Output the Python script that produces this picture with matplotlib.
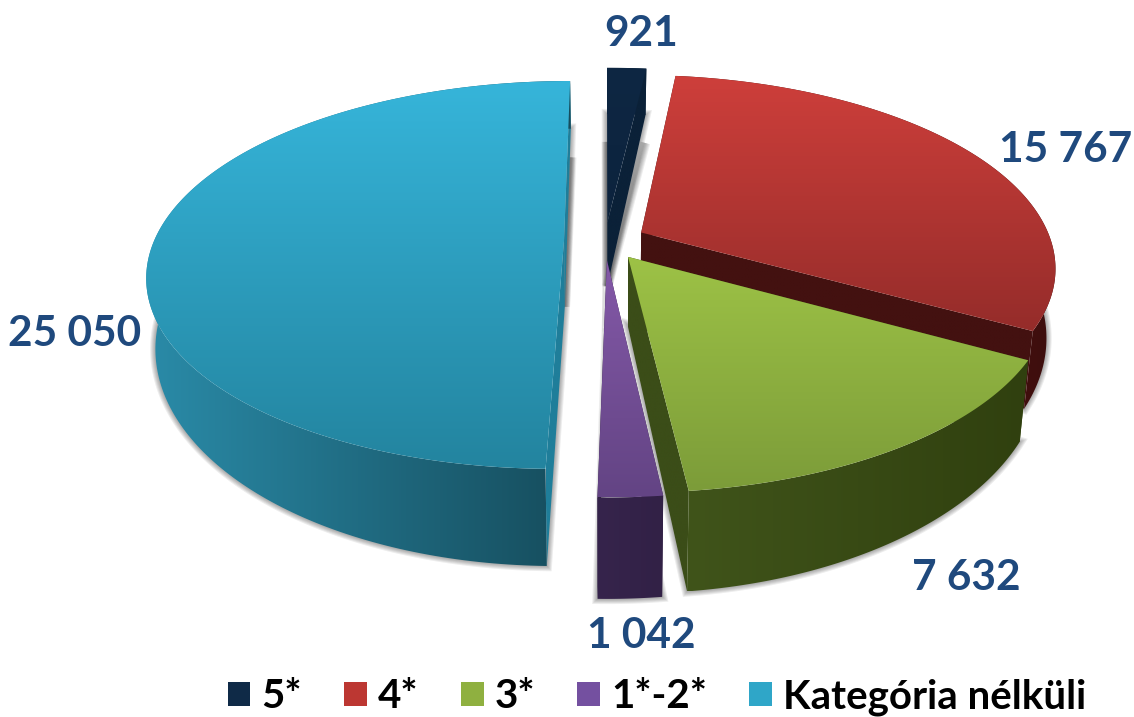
import numpy as np
import matplotlib
matplotlib.use("Agg")
import matplotlib.pyplot as plt
from matplotlib.path import Path
from matplotlib.patches import PathPatch, Patch, Polygon
from matplotlib.colors import LinearSegmentedColormap

categories = ["5*", "4*", "3*", "1*-2*", "Kategória nélküli"]
values = [921, 15767, 7632, 1042, 25050]
labels = ["921", "15 767", "7 632", "1 042", "25 050"]
label_pos = [(641, 34.5), (1066, 150.5), (966, 578.5), (641, 636.5), (75, 333.5)]
top_colors = [("#0E2743", "#0C233D"), ("#CE3F3B", "#952C2A"), ("#9DC246", "#7C9C39"),
              ("#8459A8", "#634484"), ("#36B5DA", "#23849F")]
wall_colors = [("#0B2138", "#0B2138"), ("#531311", "#3E0E0D"), ("#40541A", "#30400F"),
               ("#36244C", "#322146"), ("#2A8BA8", "#164D5D")]
cut_colors = ["#0B2138", "#431110", "#3B4D18", "#2E1E40", "#1F7E9A"]
legend_colors = ["#0F2A47", "#BC3732", "#8FB040", "#7450A0", "#2FA6C8"]
draw_order = [0, 1, 4, 2, 3]

W, H = 1134, 717
CX, CY, RX, RY, P, EXPL, DEPTH, SHRINK = 605, 241, 410, 188, 0.176, 0.10, 66, 0.02

fig = plt.figure(figsize=(W / 100, H / 100), dpi=100)
ax = fig.add_axes([0, 0, 1, 1])


def project(theta, r, z, dx, dy):
    u = r * np.sin(theta) + dx
    v = r * np.cos(theta) + dy
    s = 1 / (1 + P * v)
    x = CX + RX * u * s
    y = CY - RY * v * s
    return CX + (x - CX) * (1 - SHRINK * z), y + z * DEPTH * s ** 2


def fill(xs, ys, c0, c1, horizontal, zorder):
    xy = np.column_stack([np.append(xs, xs[0]), np.append(ys, ys[0])])
    codes = [Path.MOVETO] + [Path.LINETO] * (len(xs) - 1) + [Path.CLOSEPOLY]
    patch = PathPatch(Path(xy, codes), facecolor="none", edgecolor="none", zorder=zorder)
    ax.add_patch(patch)
    cmap = LinearSegmentedColormap.from_list("g", [c0, c1])
    grad = np.linspace(0, 1, 256)
    grad = grad[None, :] if horizontal else grad[:, None]
    im = ax.imshow(grad, cmap=cmap, aspect="auto", zorder=zorder, interpolation="bilinear",
                   extent=(xs.min(), xs.max(), ys.max(), ys.min()))
    im.set_clip_path(patch)


fractions = np.array(values) / sum(values)
edges = np.concatenate([[0], np.cumsum(fractions)]) * 2 * np.pi
shadow_widths = [1.5, 3, 4.5, 6, 7.5]

# soft shadows behind every slice
for i in range(len(values)):
    a0, a1 = edges[i], edges[i + 1]
    mid = (a0 + a1) / 2
    dx, dy = EXPL * np.sin(mid), EXPL * np.cos(mid)
    arc = np.linspace(a0, a1, 200)
    xb, yb = project(arc, 1.0, 1, dx, dy)
    xa, ya = project(mid, 0.0, 1, dx, dy)
    for lw in shadow_widths:
        ax.add_patch(Polygon(np.column_stack([np.r_[xa, xb], np.r_[ya, yb]]), closed=True,
                             facecolor="none", edgecolor="black", alpha=0.07, lw=lw, zorder=0.1))
    for a in (a0, a1):
        if np.cos(a) > 0.5:
            xs, ys = project(a, 1.0, 1.6, dx, dy)
            for lw in shadow_widths:
                ax.plot([xs, xa], [ys, ya], color="black", alpha=0.07, lw=lw, zorder=0.1,
                        solid_capstyle="butt")

z = 1
for i in draw_order:
    a0, a1 = edges[i], edges[i + 1]
    mid = (a0 + a1) / 2
    dx, dy = EXPL * np.sin(mid), EXPL * np.cos(mid)
    arc = np.linspace(a0, a1, 200)
    # cut faces
    for a in (a0, a1):
        rim = np.array([0, 1.0])
        xt, yt = project(a, rim, 0, dx, dy)
        xb, yb = project(a, rim, 1, dx, dy)
        fill(np.r_[xt, xb[::-1]], np.r_[yt, yb[::-1]], cut_colors[i], cut_colors[i], True, z)
        z += 1
    # outer wall
    xt, yt = project(arc, 1.0, 0, dx, dy)
    xb, yb = project(arc, 1.0, 1, dx, dy)
    fill(np.r_[xt, xb[::-1]], np.r_[yt, yb[::-1]], wall_colors[i][0], wall_colors[i][1], True, z)
    z += 1
    # top
    xa, ya = project(mid, 0.0, 0, dx, dy)
    fill(np.r_[xa, xt], np.r_[ya, yt], top_colors[i][0], top_colors[i][1], False, z)
    z += 1

for lab, (x, y) in zip(labels, label_pos):
    ax.text(x, y, lab, color="#1F497D", fontsize=30.5, fontweight="bold", family="Lato",
            ha="center", va="center", zorder=z)

handles = [Patch(facecolor=c, edgecolor="none", label=n) for c, n in zip(legend_colors, categories)]
leg = ax.legend(handles=handles, ncol=5, loc="center", bbox_to_anchor=(657 / W, 1 - 697 / H),
                bbox_transform=ax.transAxes, frameon=False,
                prop={"family": "Lato", "weight": "bold", "size": 29},
                handlelength=0.57, handleheight=0.57, handletextpad=0.27,
                columnspacing=1.05, borderpad=0, borderaxespad=0)
for t in leg.get_texts():
    t.set_color("#000000")

ax.set_xlim(0, W)
ax.set_ylim(H, 0)
ax.axis("off")
fig.savefig("out.png", dpi=100, facecolor="white")
